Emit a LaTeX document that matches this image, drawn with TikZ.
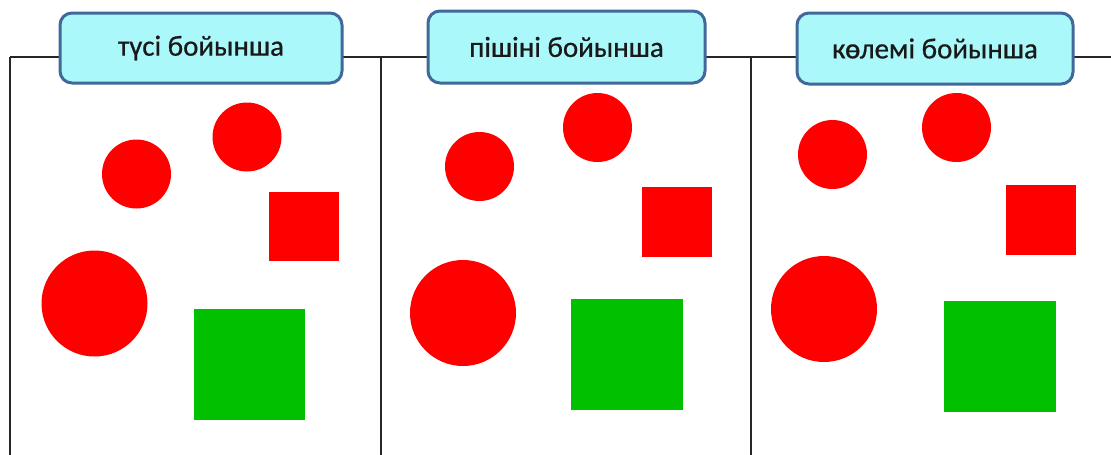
\documentclass[tikz,border=0pt]{standalone}
\usepackage{fontspec}
\setmainfont{Carlito}
\definecolor{boxfill}{HTML}{AAF8FA}
\definecolor{boxline}{HTML}{41689A}
\definecolor{shred}{HTML}{FF0000}
\definecolor{shgreen}{HTML}{00C000}
\begin{document}
\begin{tikzpicture}[x=1pt,y=-1pt,
  headbox/.style={draw=boxline, line width=3pt, fill=boxfill, rounded corners=12pt,
    inner sep=0pt, font=\fontsize{29}{34}\selectfont, text=black!90},
  rdisc/.style={circle, fill=shred, inner sep=0pt, minimum size=#1},
  rsq/.style={rectangle, fill=shred, inner sep=0pt, minimum size=#1},
  gsq/.style={rectangle, fill=shgreen, inner sep=0pt, minimum size=#1},
  frame/.style={draw=black!85, line width=1.4pt}]
\useasboundingbox (0,0) rectangle (1111,455);
% frame lines
\coordinate (tl) at (10,57);
\coordinate (tr) at (1111,57);
\coordinate (t2) at (381,57);
\coordinate (t3) at (751,57);
\coordinate (b1) at (10,455);
\coordinate (b2) at (381,455);
\coordinate (b3) at (751,455);
\draw[frame] (tl) -- (tr);
\draw[frame] (tl) -- (b1);
\draw[frame] (t2) -- (b2);
\draw[frame] (t3) -- (b3);
% headings
\node[headbox, minimum width=282pt, minimum height=70pt] (h1) at (201,48) {\addfontfeatures{FakeBold=0.6}түсі бойынша};
\node[headbox, minimum width=277pt, minimum height=72pt] (h2) at (566.5,47) {\addfontfeatures{FakeBold=0.6}пішіні бойынша};
\node[headbox, minimum width=276pt, minimum height=71pt] (h3) at (935,48.5) {\addfontfeatures{FakeBold=0.6}көлемі бойынша};
% panel 1
\node[rdisc=69pt] (p1c1) at (136.5,174) {};
\node[rdisc=69pt] (p1c2) at (247,137) {};
\node[rsq=69.5pt] (p1s1) at (304,226.5) {};
\node[rdisc=106pt] (p1c3) at (94.5,303.5) {};
\node[gsq=111pt] (p1s2) at (249.5,364) {};
% panel 2
\node[rdisc=69pt] (p2c1) at (479.5,166.5) {};
\node[rdisc=69pt] (p2c2) at (597.5,127.5) {};
\node[rsq=70pt] (p2s1) at (677,222) {};
\node[rdisc=106pt] (p2c3) at (463,313) {};
\node[gsq=111.5pt] (p2s2) at (627,354.5) {};
% panel 3
\node[rdisc=69pt] (p3c1) at (832.5,154.5) {};
\node[rdisc=69pt] (p3c2) at (956.5,127.5) {};
\node[rsq=70pt] (p3s1) at (1041,220) {};
\node[rdisc=106pt] (p3c3) at (824,309) {};
\node[gsq=111.5pt] (p3s2) at (1000,356.5) {};
\end{tikzpicture}
\end{document}
